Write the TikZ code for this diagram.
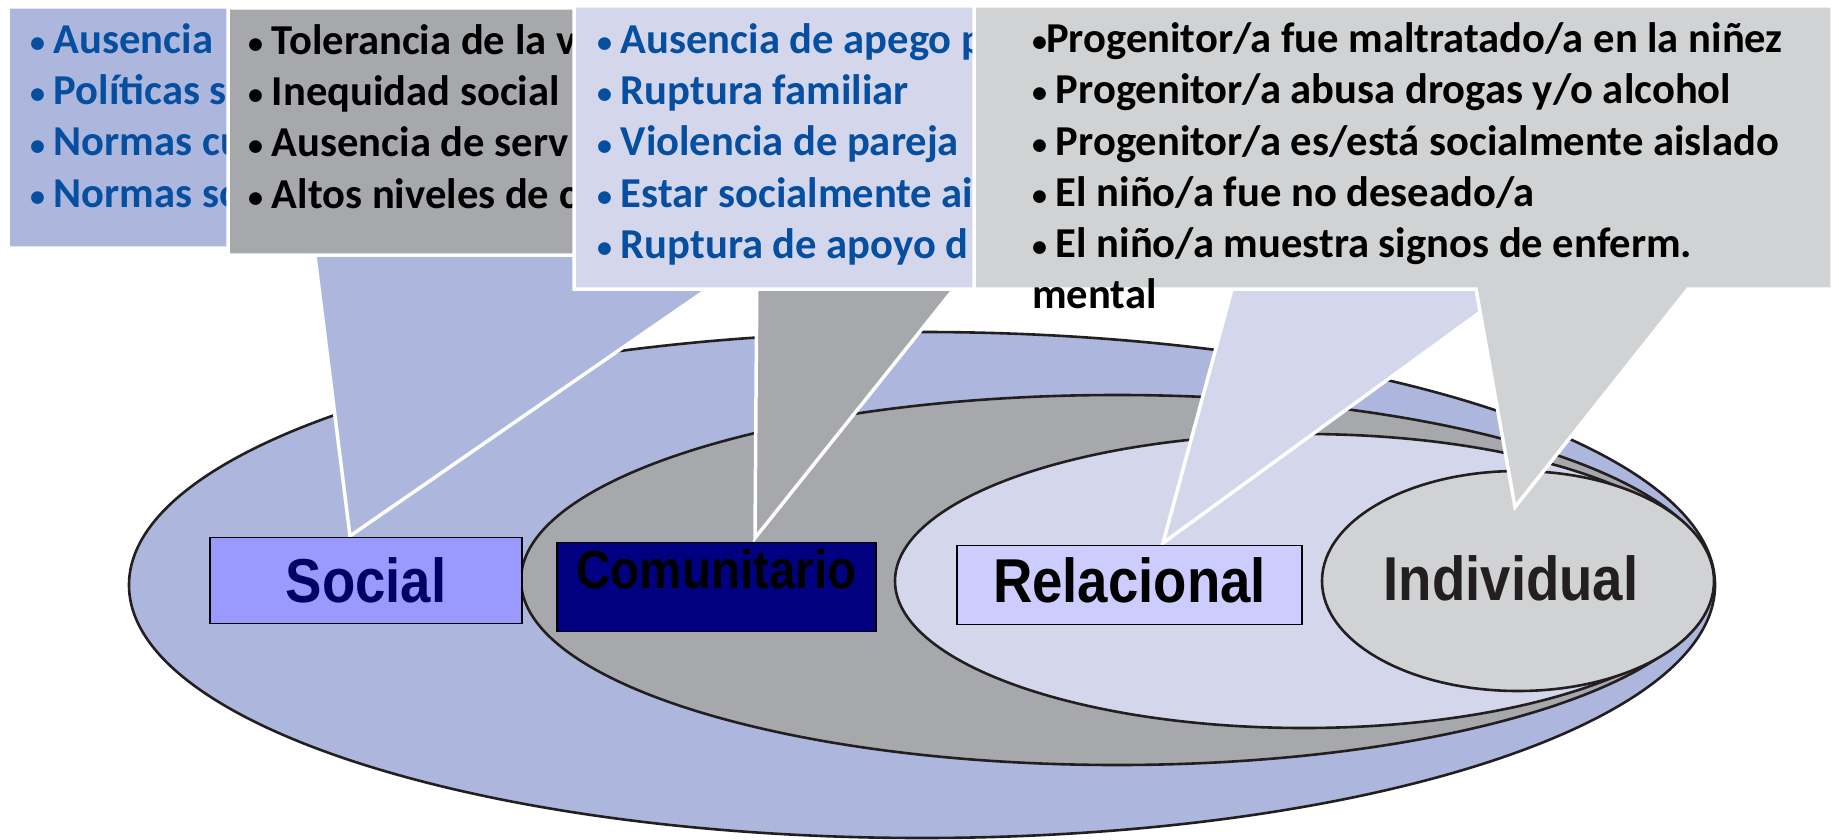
\documentclass[tikz,border=0pt]{standalone}
\usepackage{fontspec}
\setmainfont{Carlito}
\newfontfamily\lblfont[FakeStretch=0.88]{Liberation Sans}

\definecolor{socfill}{RGB}{173,183,221}
\definecolor{comfill}{RGB}{167,168,171}
\definecolor{relfill}{RGB}{212,215,236}
\definecolor{indfill}{RGB}{209,210,212}
\definecolor{azul}{RGB}{5,78,160}
\definecolor{socbox}{RGB}{153,153,255}
\definecolor{socink}{RGB}{0,0,102}
\definecolor{combox}{RGB}{0,0,128}
\definecolor{relbox}{RGB}{204,204,255}
\definecolor{tinta}{RGB}{35,31,32}

% Viñeta pequeña
\newcommand\pto{\makebox[14pt][l]{\raisebox{1pt}{\fontsize{30}{30}\selectfont •}}}

\begin{document}
\begin{tikzpicture}[x = 1pt, y = -1pt,
	anillo/.style = {draw = tinta, line width = 2.6pt},
	globo/.style = {draw = white, line width = 3.5pt},
	linea/.style = {anchor = base west, inner sep = 0pt, font = \fontsize{42.6}{51}\selectfont\bfseries},
	caja/.style = {draw = black, line width = 1.4pt, inner sep = 0pt, anchor = north, font = \lblfont\bfseries\fontsize{#1}{#1}\selectfont}]

	\useasboundingbox (0, 0) rectangle (1839, 840);
	\fill [white] (0, 0) rectangle (1839, 840);

	% Elipses:
	\draw [anillo, fill = socfill] (922, 585) ellipse [x radius = 793pt, y radius = 253pt];
	\draw [anillo, fill = comfill] (1117, 580) ellipse [x radius = 596pt, y radius = 185pt];
	\draw [anillo, fill = relfill] (1304, 581) ellipse [x radius = 409pt, y radius = 147pt];
	\draw [anillo, fill = indfill] (1518, 581) ellipse [x radius = 196pt, y radius = 110pt];

	% Globo social
	\filldraw [globo, fill = socfill] (8, 7) -- (790, 7) -- (790, 248) -- (767, 248) -- (350, 536) -- (314, 248) -- (8, 248) -- cycle;
	\foreach \t [count = \i] in {Ausencia, Políticas s, Normas cu, Normas so} {
		\node [linea, text = azul] (soc\i) at (30, 3 + 51*\i) {\pto\ \t};
	}

	% Globo comunitario
	\filldraw [globo, fill = comfill] (228, 8) -- (1000, 8) -- (1000, 255) -- (981, 255) -- (755, 538) -- (757, 255) -- (228, 255) -- cycle;
	\foreach \t [count = \i] in {Tolerancia de la v, Inequidad social, Ausencia de serv, Altos niveles de c} {
		\node [linea, text = black] (com\i) at (248, 4 + 51*\i) {\pto\ \t};
	}

	% Globo relacional
	\filldraw [globo, fill = relfill] (574, 6) -- (1530, 6) -- (1530, 289) -- (1512, 289) -- (1163, 543) -- (1232, 289) -- (574, 289) -- cycle;
	\foreach \t [count = \i] in {Ausencia de apego p, Ruptura familiar, Violencia de pareja, Estar socialmente ai, Ruptura de apoyo d} {
		\node [linea, text = azul] (rel\i) at (597, 3 + 51*\i) {\pto\ \t};
	}

	% Globo individual
	\filldraw [globo, fill = indfill] (974, 6) -- (1832, 6) -- (1832, 289) -- (1688, 289) -- (1515, 507) -- (1476, 289) -- (974, 289) -- cycle;
	\foreach \t [count = \i] in {\pto Progenitor/a fue maltratado/a en la niñez, \pto\ Progenitor/a abusa drogas y/o alcohol, \pto\ Progenitor/a es/está socialmente aislado, \pto\ El niño/a fue no deseado/a, \pto\ El niño/a muestra signos de enferm., mental} {
		\node [linea, text = black] (ind\i) at (1032, 2 + 51*\i) {\t};
	}

	% Etiquetas
	\node [caja = 62, fill = socbox, text = socink, minimum width = 312pt, text height = 65pt, text depth = 21pt] (social) at (366, 537) {Social};
	\node [caja = 54, fill = combox, text = black, minimum width = 319pt, text height = 46pt, text depth = 43pt] (comunitario) at (716.5, 542) {Comunitario};
	\node [caja = 62, fill = relbox, text = black, minimum width = 345pt, text height = 57pt, text depth = 22pt] (relacional) at (1129.5, 545) {Relacional};
	\node [anchor = base, inner sep = 0pt, text = tinta, font = \lblfont\bfseries\fontsize{62}{62}\selectfont] (individual) at (1511, 600) {Individual};
\end{tikzpicture}
\end{document}
